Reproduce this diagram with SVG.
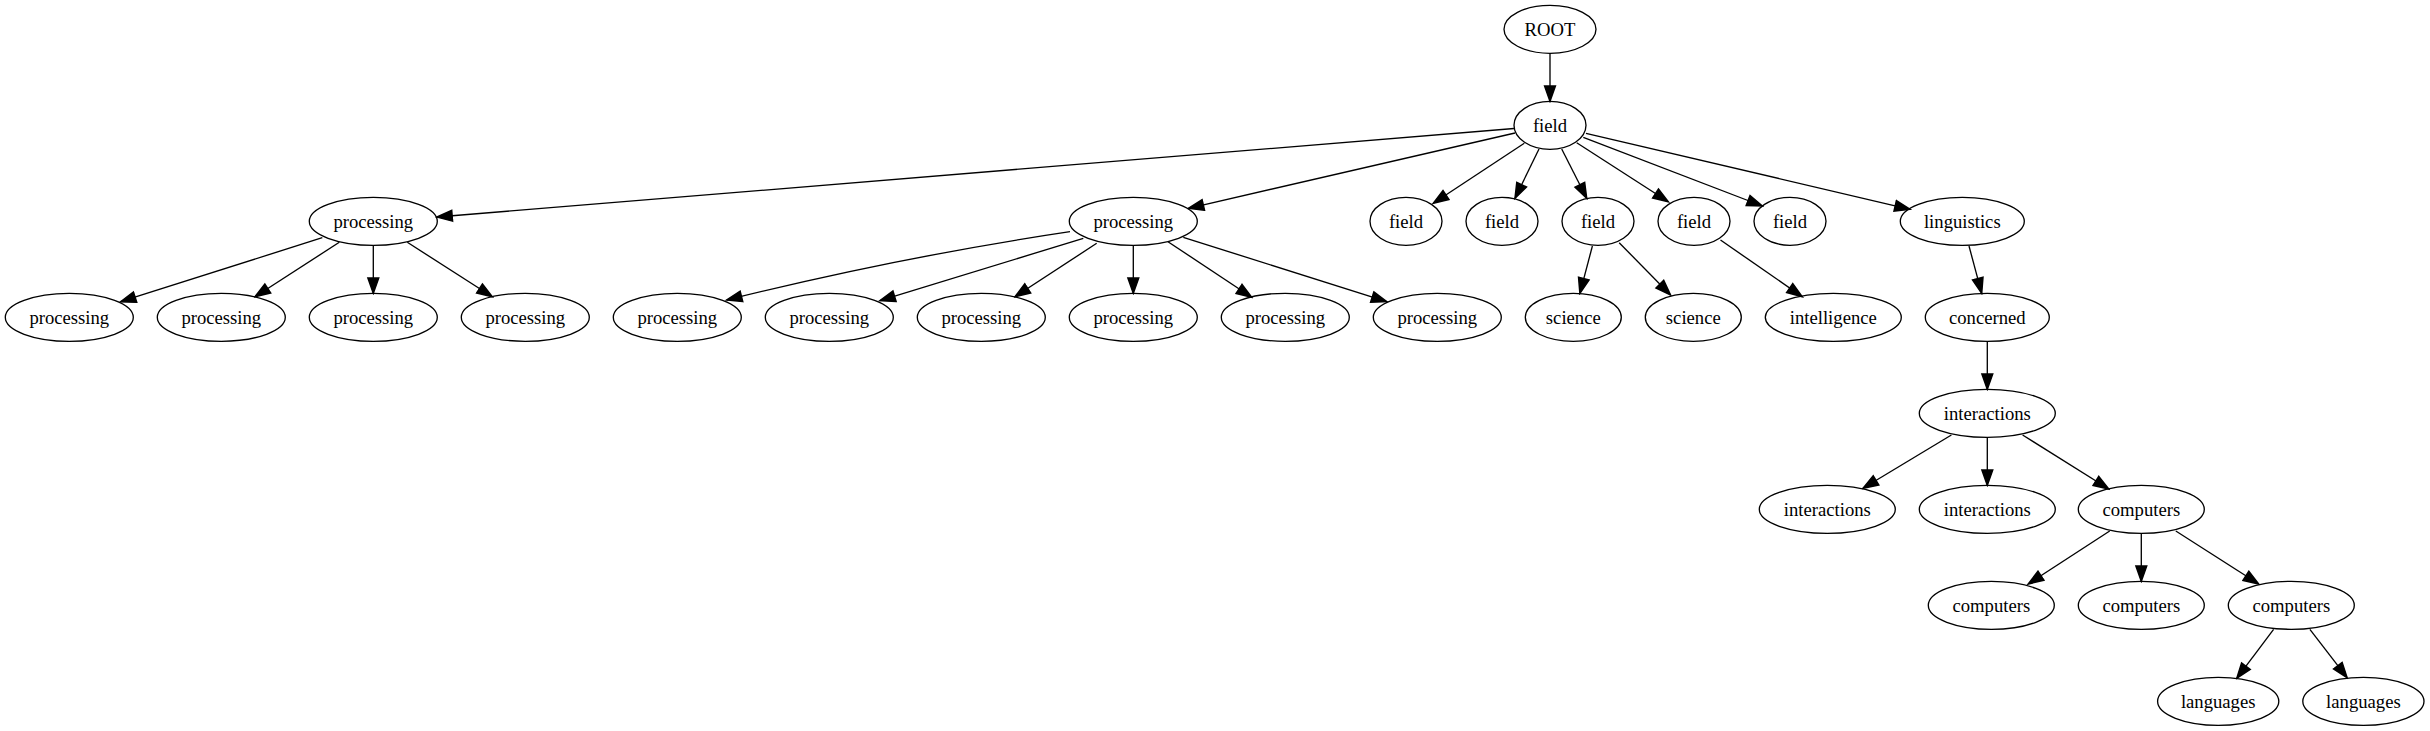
<svg xmlns="http://www.w3.org/2000/svg" width="2430" height="731" viewBox="0 0 2430 731">
<style>
.n ellipse{fill:none;stroke:#000;stroke-width:1.33}
.n text{font-family:"Liberation Serif","Times New Roman",serif;font-size:18.67px;text-anchor:middle;fill:#000}
.e path{fill:none;stroke:#000;stroke-width:1.33;marker-end:url(#ah)}
</style>
<defs>
<marker id="ah" markerUnits="userSpaceOnUse" markerWidth="18" markerHeight="14" viewBox="-1 -6 16 12" refX="13.5" refY="0" orient="auto">
<path d="M0,-4.8 L13.5,0 L0,4.8 z" fill="#000" stroke="#000" stroke-width="1.33"/>
</marker>
</defs>
<rect width="2430" height="731" fill="#fff"/>
<g id="edges" class="e">
<path d="M1550,53.3 L1550,101.3"/>
<path d="M1514,128.5 L437,217"/>
<path d="M1515,133 L1188.5,208.3"/>
<path d="M1524.3,143.3 L1433.3,203.3"/>
<path d="M1539,149 L1515,198.3"/>
<path d="M1561.7,149 L1586.7,198.3"/>
<path d="M1576.7,142.7 L1668.3,201.7"/>
<path d="M1583.3,137.3 L1762.3,206"/>
<path d="M1586,133.3 L1910,209.3"/>
<path d="M322.3,237.7 L120.6,301.7"/>
<path d="M339.3,242.3 L255,296.7"/>
<path d="M373.3,245.3 L373.3,293.3"/>
<path d="M407.3,242.3 L492.3,296.7"/>
<path d="M1070,231.7 Q900,257 726.7,300"/>
<path d="M1083.3,238.3 L880,300.7"/>
<path d="M1096.7,243.3 L1015,296.7"/>
<path d="M1133.3,245.3 L1133.3,293.3"/>
<path d="M1168,241.7 L1251.7,297.3"/>
<path d="M1183.3,237.3 L1386.7,301.7"/>
<path d="M1592.4,246 L1579.9,293.3"/>
<path d="M1619.2,242.7 L1670.5,295"/>
<path d="M1720.5,240 L1802.2,296.7"/>
<path d="M1969,246 L1981.7,293.3"/>
<path d="M1987.3,341.3 L1987.3,389.3"/>
<path d="M1951.4,435 L1863,488.3"/>
<path d="M1987.3,437.3 L1987.3,485.3"/>
<path d="M2022.6,435 L2108.8,489"/>
<path d="M2109.7,531 L2028.2,584"/>
<path d="M2141.3,533.3 L2141.3,581.3"/>
<path d="M2175.8,531 L2258.7,584"/>
<path d="M2273.6,629.3 L2236.8,678.3"/>
<path d="M2309.9,629.3 L2347.1,677.7"/>
</g>
<g id="root" class="n"><ellipse cx="1550" cy="29.3" rx="46" ry="24"/><text x="1550" y="35.8">ROOT</text></g>
<g id="field" class="n"><ellipse cx="1550" cy="125.3" rx="36" ry="24"/><text x="1550" y="131.8">field</text></g>
<g id="proc_a" class="n"><ellipse cx="373.3" cy="221.3" rx="64" ry="24"/><text x="373.3" y="227.8">processing</text></g>
<g id="proc_b" class="n"><ellipse cx="1133.3" cy="221.3" rx="64" ry="24"/><text x="1133.3" y="227.8">processing</text></g>
<g id="field_1" class="n"><ellipse cx="1406" cy="221.3" rx="36" ry="24"/><text x="1406" y="227.8">field</text></g>
<g id="field_2" class="n"><ellipse cx="1502" cy="221.3" rx="36" ry="24"/><text x="1502" y="227.8">field</text></g>
<g id="field_3" class="n"><ellipse cx="1598" cy="221.3" rx="36" ry="24"/><text x="1598" y="227.8">field</text></g>
<g id="field_4" class="n"><ellipse cx="1694" cy="221.3" rx="36" ry="24"/><text x="1694" y="227.8">field</text></g>
<g id="field_5" class="n"><ellipse cx="1790" cy="221.3" rx="36" ry="24"/><text x="1790" y="227.8">field</text></g>
<g id="linguistics" class="n"><ellipse cx="1962.3" cy="221.3" rx="62" ry="24"/><text x="1962.3" y="227.8">linguistics</text></g>
<g id="proc_0" class="n"><ellipse cx="69.3" cy="317.3" rx="64" ry="24"/><text x="69.3" y="323.8">processing</text></g>
<g id="proc_1" class="n"><ellipse cx="221.3" cy="317.3" rx="64" ry="24"/><text x="221.3" y="323.8">processing</text></g>
<g id="proc_2" class="n"><ellipse cx="373.3" cy="317.3" rx="64" ry="24"/><text x="373.3" y="323.8">processing</text></g>
<g id="proc_3" class="n"><ellipse cx="525.3" cy="317.3" rx="64" ry="24"/><text x="525.3" y="323.8">processing</text></g>
<g id="proc_4" class="n"><ellipse cx="677.3" cy="317.3" rx="64" ry="24"/><text x="677.3" y="323.8">processing</text></g>
<g id="proc_5" class="n"><ellipse cx="829.3" cy="317.3" rx="64" ry="24"/><text x="829.3" y="323.8">processing</text></g>
<g id="proc_6" class="n"><ellipse cx="981.3" cy="317.3" rx="64" ry="24"/><text x="981.3" y="323.8">processing</text></g>
<g id="proc_7" class="n"><ellipse cx="1133.3" cy="317.3" rx="64" ry="24"/><text x="1133.3" y="323.8">processing</text></g>
<g id="proc_8" class="n"><ellipse cx="1285.3" cy="317.3" rx="64" ry="24"/><text x="1285.3" y="323.8">processing</text></g>
<g id="proc_9" class="n"><ellipse cx="1437.3" cy="317.3" rx="64" ry="24"/><text x="1437.3" y="323.8">processing</text></g>
<g id="science_1" class="n"><ellipse cx="1573.3" cy="317.3" rx="48" ry="24"/><text x="1573.3" y="323.8">science</text></g>
<g id="science_2" class="n"><ellipse cx="1693.3" cy="317.3" rx="48" ry="24"/><text x="1693.3" y="323.8">science</text></g>
<g id="intelligence" class="n"><ellipse cx="1833.3" cy="317.3" rx="68" ry="24"/><text x="1833.3" y="323.8">intelligence</text></g>
<g id="concerned" class="n"><ellipse cx="1987.3" cy="317.3" rx="62" ry="24"/><text x="1987.3" y="323.8">concerned</text></g>
<g id="interactions" class="n"><ellipse cx="1987.3" cy="413.3" rx="68" ry="24"/><text x="1987.3" y="419.8">interactions</text></g>
<g id="interactions_1" class="n"><ellipse cx="1827.3" cy="509.3" rx="68" ry="24"/><text x="1827.3" y="515.8">interactions</text></g>
<g id="interactions_2" class="n"><ellipse cx="1987.3" cy="509.3" rx="68" ry="24"/><text x="1987.3" y="515.8">interactions</text></g>
<g id="computers" class="n"><ellipse cx="2141.3" cy="509.3" rx="63" ry="24"/><text x="2141.3" y="515.8">computers</text></g>
<g id="computers_1" class="n"><ellipse cx="1991.3" cy="605.3" rx="63" ry="24"/><text x="1991.3" y="611.8">computers</text></g>
<g id="computers_2" class="n"><ellipse cx="2141.3" cy="605.3" rx="63" ry="24"/><text x="2141.3" y="611.8">computers</text></g>
<g id="computers_3" class="n"><ellipse cx="2291.3" cy="605.3" rx="63" ry="24"/><text x="2291.3" y="611.8">computers</text></g>
<g id="languages_1" class="n"><ellipse cx="2218.2" cy="701.3" rx="60.6" ry="24"/><text x="2218.2" y="707.8">languages</text></g>
<g id="languages_2" class="n"><ellipse cx="2363.4" cy="701.3" rx="60.6" ry="24"/><text x="2363.4" y="707.8">languages</text></g>
</svg>
